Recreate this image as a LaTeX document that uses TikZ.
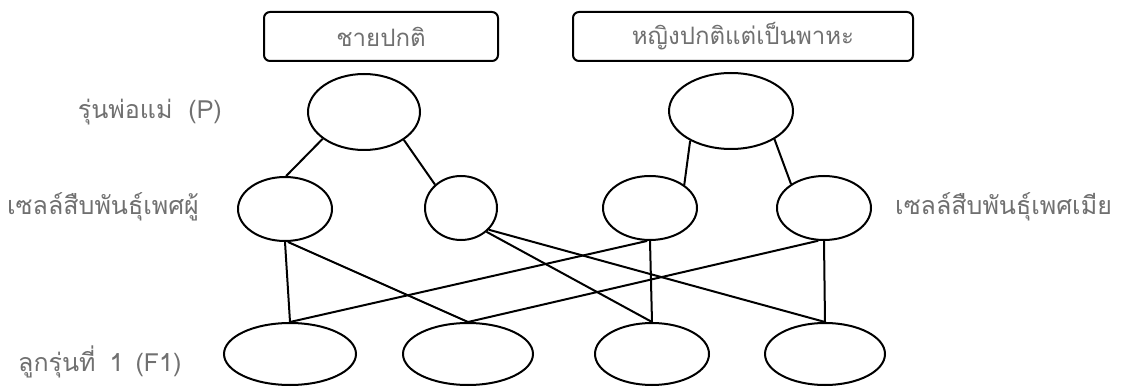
\documentclass[tikz,border=0pt]{standalone}
\usepackage{fontspec}
\newfontfamily\thaifont[Script=Thai]{Loma}
\usetikzlibrary{shapes.geometric}
\definecolor{labelgray}{RGB}{112,112,112}
\tikzset{
  cell/.style={draw=black, ellipse, line width=2pt, inner sep=0pt},
  titlebox/.style={draw=black, rounded corners=6pt, line width=2pt, inner sep=0pt,
    text=labelgray, font=\thaifont\fontsize{24}{28}\selectfont},
  rowlabel/.style={text=labelgray, inner sep=0pt, font=\thaifont\fontsize{25}{30}\selectfont},
  link/.style={line width=2pt, black}
}
\begin{document}
\begin{tikzpicture}[x=1pt, y=-1pt]
  \useasboundingbox (0,0) rectangle (1121,387);
  \fill[white] (0,0) rectangle (1121,387);

  % titles
  \node[titlebox, minimum width=234pt, minimum height=49pt] (tm) at (381,36.5) {ชายปกติ};
  \node[titlebox, minimum width=340pt, minimum height=49pt] (tf) at (743,36.5) {หญิงปกติแต่เป็นพาหะ};

  % row labels
  \node[rowlabel, anchor=east] (lp) at (222,112) {รุ่นพ่อแม่\hspace{16pt}(P)};
  \node[rowlabel, anchor=west] (lgm) at (7,207) {เซลล์สืบพันธุ์เพศผู้};
  \node[rowlabel, anchor=west] (lgf) at (895,207) {เซลล์สืบพันธุ์เพศเมีย};
  \node[rowlabel, anchor=west] (lf) at (18,362) {ลูกรุ่นที่\hspace{14pt}1\hspace{12pt}(F1)};

  % parents
  \node[cell, minimum width=112pt, minimum height=76pt] (p1) at (364,112) {};
  \node[cell, minimum width=124pt, minimum height=76pt] (p2) at (731,111) {};

  % gametes
  \node[cell, minimum width=94pt, minimum height=64pt] (g1) at (285,209) {};
  \node[cell, minimum width=72pt, minimum height=64pt] (g2) at (461,208) {};
  \node[cell, minimum width=94pt, minimum height=64pt] (g3) at (650,208) {};
  \node[cell, minimum width=94pt, minimum height=64pt] (g4) at (824,208) {};

  % offspring
  \node[cell, minimum width=132pt, minimum height=62pt] (f1) at (290,354) {};
  \node[cell, minimum width=130pt, minimum height=62pt] (f2) at (468,354) {};
  \node[cell, minimum width=114pt, minimum height=62pt] (f3) at (652,354) {};
  \node[cell, minimum width=120pt, minimum height=62pt] (f4) at (825,354) {};

  % parents to gametes
  \draw[link] (p1.213.7) -- (g1.88);
  \draw[link] (p1.325.7) -- (g2.138.5);
  \draw[link] (p2.216.7) -- (g3.34.9);
  \draw[link] (p2.327.4) -- (g4.144.3);

  % gametes to offspring
  \draw[link] (g1.south) -- (f1.north);
  \draw[link] (g1.-85) -- (f2.north);
  \draw[link] (g2.317) -- (f3.north);
  \draw[link] (g2.322) -- (f4.north);
  \draw[link] (g3.-95) -- (f1.north);
  \draw[link] (g3.south) -- (f3.north);
  \draw[link] (g4.-100) -- (f2.north);
  \draw[link] (g4.south) -- (f4.north);
\end{tikzpicture}
\end{document}
